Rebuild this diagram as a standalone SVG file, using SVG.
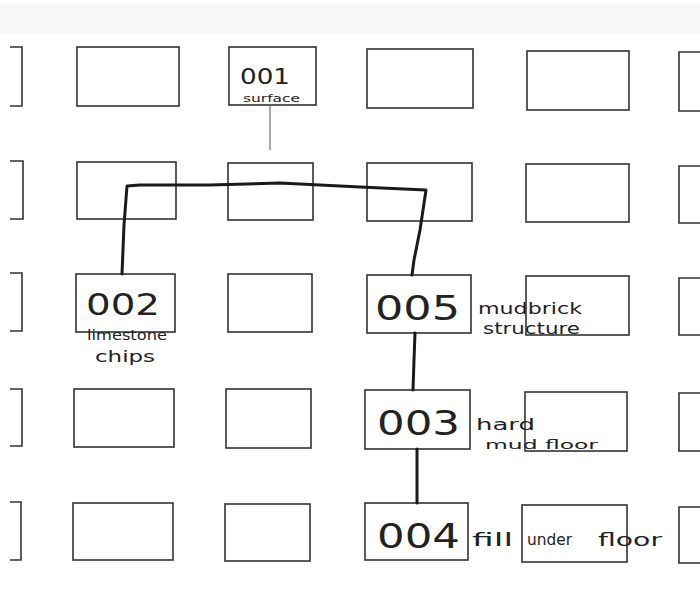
<svg xmlns="http://www.w3.org/2000/svg" width="700" height="589" viewBox="0 0 700 589">
<defs>
<style>
.box{fill:none;stroke:#333;stroke-width:1.6}
.conn{fill:none;stroke:#1a1a1a;stroke-width:3;stroke-linejoin:round;stroke-linecap:round}
.thin{fill:none;stroke:#555;stroke-width:1}
.num{font-family:"DejaVu Sans","Liberation Sans",sans-serif;fill:#222;font-weight:normal}
.note{font-family:"DejaVu Sans","Liberation Sans",sans-serif;fill:#222}
</style>
</defs>
<rect x="0" y="0" width="700" height="589" fill="#fff"/>
<rect x="0" y="4" width="700" height="30" fill="#f7f7f7"/>

<!-- Row 1 -->
<g id="r1-left"><path class="box" d="M10,47 H22 V106 H10"/></g>
<g id="r1-a"><rect class="box" x="77" y="47" width="102" height="59"/></g>
<g id="n001"><rect class="box" x="229" y="47" width="87" height="58"/>
<text class="num" x="240" y="84" font-size="22" textLength="50" lengthAdjust="spacingAndGlyphs">001</text>
<text class="note" x="243" y="102" font-size="11" textLength="57" lengthAdjust="spacingAndGlyphs">surface</text></g>
<g id="r1-c"><rect class="box" x="367" y="49" width="106" height="59"/></g>
<g id="r1-d"><rect class="box" x="527" y="51" width="102" height="59"/></g>
<g id="r1-right"><path class="box" d="M700,52 H679 V111 H700"/></g>

<!-- Row 2 -->
<g id="r2-left"><path class="box" d="M10,161 H23 V219 H10"/></g>
<g id="r2-a"><rect class="box" x="77" y="162" width="99" height="57"/></g>
<g id="r2-b"><rect class="box" x="228" y="163" width="85" height="57"/></g>
<g id="r2-c"><rect class="box" x="367" y="163" width="105" height="58"/></g>
<g id="r2-d"><rect class="box" x="526" y="164" width="103" height="58"/></g>
<g id="r2-right"><path class="box" d="M700,166 H679 V223 H700"/></g>

<!-- Row 3 -->
<g id="r3-left"><path class="box" d="M10,273 H22 V331 H10"/></g>
<g id="n002"><rect class="box" x="76" y="274" width="99" height="58"/>
<text class="num" x="86" y="315" font-size="31" textLength="74" lengthAdjust="spacingAndGlyphs">002</text>
<text class="note" x="87" y="340" font-size="14" textLength="80" lengthAdjust="spacingAndGlyphs">limestone</text>
<text class="note" x="95" y="362" font-size="15" textLength="60" lengthAdjust="spacingAndGlyphs">chips</text></g>
<g id="r3-b"><rect class="box" x="228" y="274" width="84" height="58"/></g>
<g id="n005"><rect class="box" x="367" y="275" width="104" height="58"/>
<text class="num" x="375" y="320" font-size="33" textLength="85" lengthAdjust="spacingAndGlyphs">005</text>
<text class="note" x="478" y="314" font-size="15" textLength="104" lengthAdjust="spacingAndGlyphs">mudbrick</text>
<text class="note" x="483" y="334" font-size="15" textLength="97" lengthAdjust="spacingAndGlyphs">structure</text></g>
<g id="r3-d"><rect class="box" x="526" y="276" width="103" height="59"/></g>
<g id="r3-right"><path class="box" d="M700,278 H679 V335 H700"/></g>

<!-- Row 4 -->
<g id="r4-left"><path class="box" d="M10,389 H22 V446 H10"/></g>
<g id="r4-a"><rect class="box" x="74" y="389" width="100" height="58"/></g>
<g id="r4-b"><rect class="box" x="226" y="389" width="85" height="59"/></g>
<g id="n003"><rect class="box" x="365" y="390" width="105" height="59"/>
<text class="num" x="377" y="435" font-size="33" textLength="83" lengthAdjust="spacingAndGlyphs">003</text>
<text class="note" x="476" y="430" font-size="15" textLength="59" lengthAdjust="spacingAndGlyphs">hard</text>
<text class="note" x="485" y="449" font-size="13" textLength="113" lengthAdjust="spacingAndGlyphs">mud floor</text></g>
<g id="r4-d"><rect class="box" x="525" y="392" width="102" height="59"/></g>
<g id="r4-right"><path class="box" d="M700,393 H679 V451 H700"/></g>

<!-- Row 5 -->
<g id="r5-left"><path class="box" d="M10,502 H21 V560 H10"/></g>
<g id="r5-a"><rect class="box" x="73" y="503" width="100" height="57"/></g>
<g id="r5-b"><rect class="box" x="225" y="504" width="85" height="57"/></g>
<g id="n004"><rect class="box" x="365" y="503" width="103" height="57"/>
<text class="num" x="377" y="548" font-size="33" textLength="83" lengthAdjust="spacingAndGlyphs">004</text>
<text class="note" x="472" y="546" font-size="17" textLength="41" lengthAdjust="spacingAndGlyphs">fill</text></g>
<g id="r5-d"><rect class="box" x="522" y="505" width="105" height="57"/>
<text class="note" x="527" y="545" font-size="15" textLength="45" lengthAdjust="spacingAndGlyphs">under</text>
<text class="note" x="598" y="546" font-size="17" textLength="64" lengthAdjust="spacingAndGlyphs">floor</text></g>
<g id="r5-right"><path class="box" d="M700,507 H679 V563 H700"/></g>

<!-- Connectors -->
<g id="connectors">
<path class="thin" d="M270,105 L270,150"/>
<path class="conn" d="M122,274 L124,225 L127,186 L140,185 L210,185 L280,183 L300,184 L360,187 L426,190 L420,230 L414,260 L412,275"/>
<path class="conn" d="M415,333 L414,360 L413,390"/>
<path class="conn" d="M417,449 L417,503"/>
</g>
</svg>
